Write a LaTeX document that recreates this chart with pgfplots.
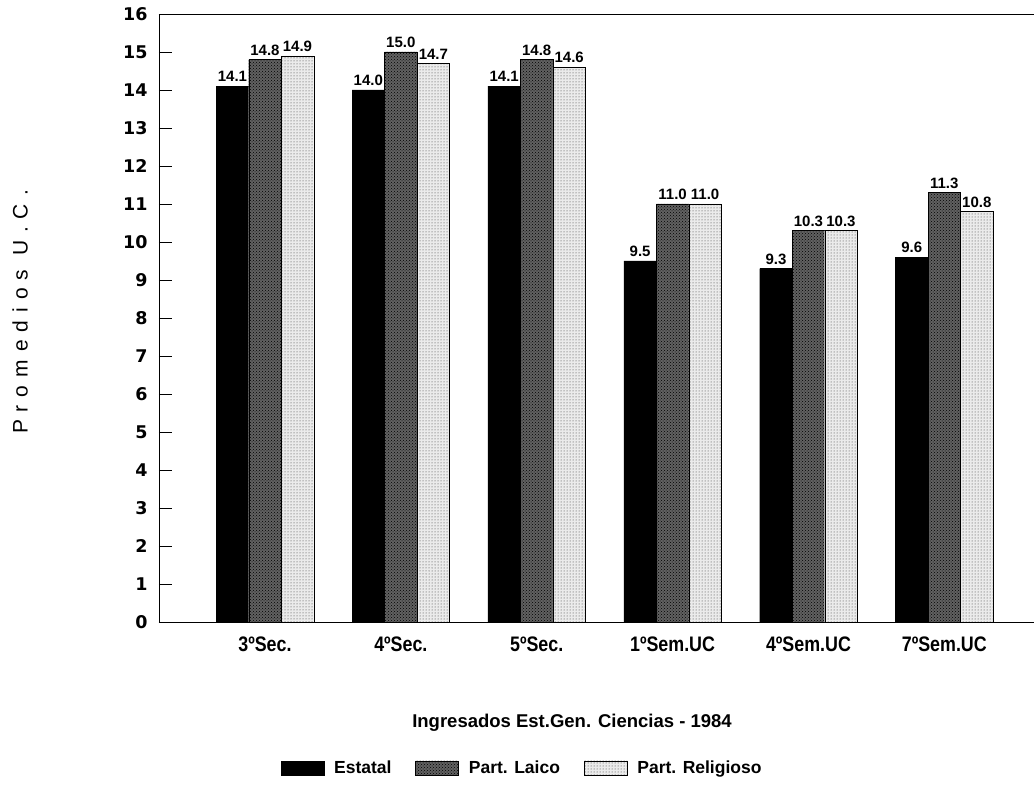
\documentclass[border=0pt]{standalone}
\usepackage{pgfplots}
\pgfplotsset{compat=1.18}
\usetikzlibrary{patterns}
\usepackage{fontspec}
\setmainfont{Liberation Sans}
\newfontfamily\dvb{DejaVu Sans}
\newcommand{\nx}[1]{\scalebox{0.85}[1]{#1}}
\pgfplotsset{boxlegend/.style={legend image code/.code={\draw[##1] (0pt,-7pt) rectangle (43pt,7pt);}}}

\begin{document}
\begin{tikzpicture}
\useasboundingbox (-159pt,-165pt) rectangle (875pt,622pt);
\begin{axis}[
  at={(0pt,0pt)}, anchor=south west,
  scale only axis, width=875pt, height=608pt,
  xmin=-0.78, xmax=5.66, ymin=0, ymax=16,
  axis x line=box, axis y line*=left,
  axis line style={black, line width=0.8pt},
  ybar=0pt, bar width=32.5pt,
  ytick={0,1,...,16}, ytick pos=left, tick align=inside,
  major tick length=13pt,
  tick style={black, line width=0.6pt},
  xtick=data, xtick style={draw=none},
  xticklabels={\nx{3ºSec.},\nx{4ºSec.},\nx{5ºSec.},\nx{1ºSem.UC},\nx{4ºSem.UC},\nx{7ºSem.UC}},
  xticklabel style={font=\bfseries\fontsize{21}{21}\selectfont, yshift=-11pt},
  yticklabel style={font=\dvb\bfseries\fontsize{17.5}{17.5}\selectfont, xshift=-8pt},
  /pgf/number format/assume math mode=true,
  nodes near coords={\pgfmathprintnumber[fixed,fixed zerofill,precision=1,assume math mode=true]{\pgfplotspointmeta}},
  every node near coord/.append style={font=\bfseries\fontsize{15}{15}\selectfont, black, inner sep=4pt},
  legend columns=3,
  legend style={draw=none, at={(0.415,-0.240)}, anchor=center,
    font=\bfseries\fontsize{17.5}{17.5}\selectfont,
    /tikz/every odd column/.append style={column sep=8pt},
    /tikz/every even column/.append style={column sep=22pt}},
]
\addplot[draw=black, fill=black, boxlegend]
  coordinates {(0,14.1) (1,14.0) (2,14.1) (3,9.5) (4,9.3) (5,9.6)};
\addlegendentry{Estatal}
\addplot[draw=black, fill=black!62, postaction={pattern=crosshatch dots, pattern color=black}, boxlegend]
  coordinates {(0,14.8) (1,15.0) (2,14.8) (3,11.0) (4,10.3) (5,11.3)};
\addlegendentry{Part. Laico}
\addplot[draw=black, fill=black!8, postaction={pattern=dots, pattern color=black!80}, boxlegend]
  coordinates {(0,14.9) (1,14.7) (2,14.6) (3,11.0) (4,10.3) (5,10.8)};
\addlegendentry{Part. Religioso}
\end{axis}
\node[font=\bfseries\fontsize{18.5}{18.5}\selectfont] at (413pt,-101pt) {Ingresados Est.Gen. Ciencias - 1984};
\node[rotate=90, font=\addfontfeatures{LetterSpace=38}\fontsize{21}{21}\selectfont] at (-139pt,310pt) {Promedios U.C.};
\end{tikzpicture}
\end{document}
